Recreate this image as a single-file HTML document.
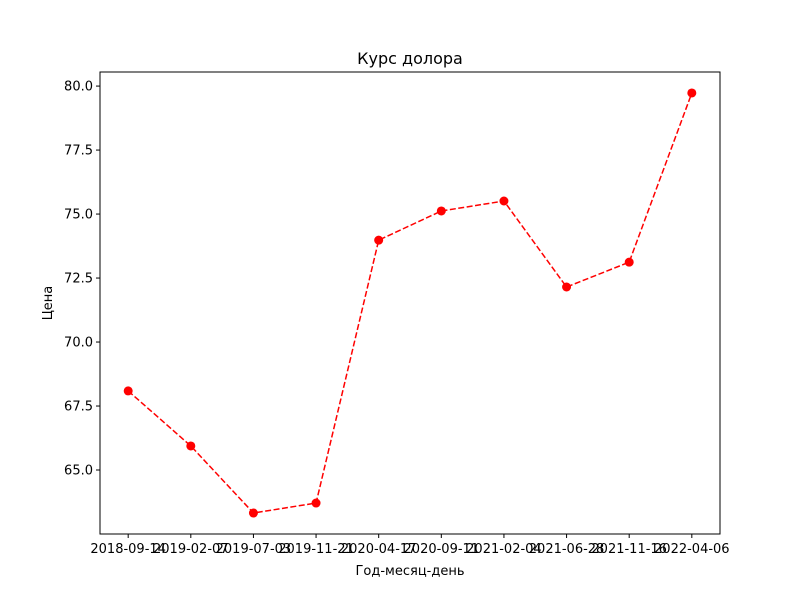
<!DOCTYPE html>
<html><head><meta charset="utf-8"><style>body{margin:0;background:#fff}svg{display:block}text{font-family:"DejaVu Sans","Liberation Sans",sans-serif;}</style></head>
<body>
<svg id="chart" width="800" height="600" xmlns="http://www.w3.org/2000/svg">
<rect width="800" height="600" fill="#fff"/>
<text x="410" y="64" text-anchor="middle" font-size="16">Курс долора</text>
<text x="410" y="575" text-anchor="middle" font-size="13">Год-месяц-день</text>
<text x="52" y="303" text-anchor="middle" font-size="13" transform="rotate(-90 52 303)">Цена</text>
<g id="ticks"></g>
<g id="marks"></g>
<rect x="100" y="72" width="620" height="462" fill="none" stroke="#000" stroke-width="1"/>
</svg>
<script>
const categories=["2018-09-14","2019-02-07","2019-07-03","2019-11-21","2020-04-17","2020-09-11","2021-02-04","2021-06-28","2021-11-16","2022-04-06"];
const values=[68.09,65.94,63.32,63.71,73.98,75.12,75.51,72.15,73.12,79.73];
const yTicks=[65,67.5,70,72.5,75,77.5,80];
const yTickLabels=["65.0","67.5","70.0","72.5","75.0","77.5","80.0"];
const NS="http://www.w3.org/2000/svg";
const L=100,R=720,T=72,B=534,ymin=62.5,ymax=80.55;
const xs=i=>L+(i+0.45)*(R-L)/(categories.length-1+0.9);
const ys=v=>B-(v-ymin)*(B-T)/(ymax-ymin);
function mk(t,a,p){const e=document.createElementNS(NS,t);for(const k in a)e.setAttribute(k,a[k]);p.appendChild(e);return e;}
const tg=document.getElementById('ticks'),mg=document.getElementById('marks');
yTicks.forEach((v,i)=>{const y=ys(v);
const l=mk('line',{x1:L-4,x2:L,y1:y,y2:y,stroke:'#000'},tg);


const t=mk('text',{x:L-7,y:y+4.5,'text-anchor':'end','font-size':'13'},tg);t.textContent=yTickLabels[i];

});
categories.forEach((c,i)=>{const x=xs(i);
const l=mk('line',{x1:x,x2:x,y1:B,y2:B+4,stroke:'#000'},tg);


const t=mk('text',{x:x,y:B+19,'text-anchor':'middle','font-size':'13'},tg);t.textContent=c;

});
const pl=mk('polyline',{points:values.map((v,i)=>xs(i)+','+ys(v)).join(' '),fill:'none',stroke:'#ff0000','stroke-width':'1.5','stroke-dasharray':'6,2.5'},mg);


values.forEach((v,i)=>{const c=mk('circle',{cx:xs(i),cy:ys(v),r:4.5,fill:'#ff0000'},mg);

});
</script>
</body></html>
